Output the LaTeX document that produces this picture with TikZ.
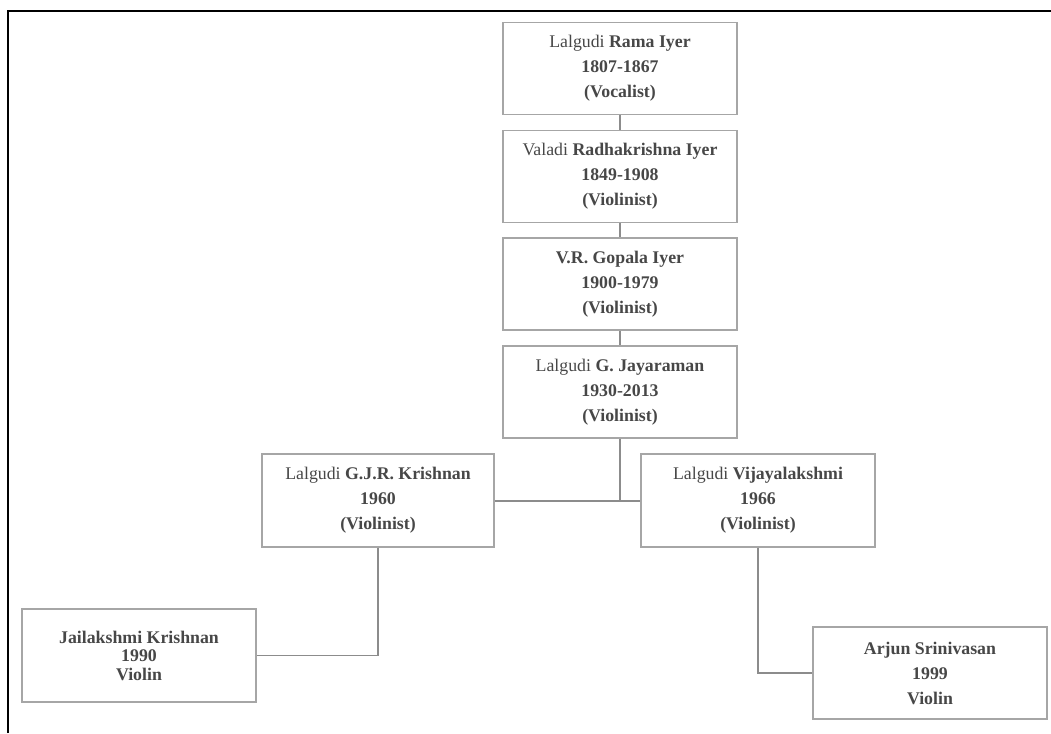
\documentclass[tikz,border=0pt]{standalone}
\usepackage{fontspec}
\setmainfont{Liberation Serif}
\definecolor{txtgray}{HTML}{474747}
\definecolor{boxgray}{HTML}{A6A6A6}
\definecolor{linegray}{HTML}{8C8C8C}
\begin{document}
\begin{tikzpicture}[x=1pt,y=-1pt,
  person/.style={draw=boxgray, line width=1.3pt, rectangle, minimum width=234pt,
    minimum height=92pt, inner sep=0pt, align=center, text=txtgray,
    font=\fontsize{17.8}{25}\selectfont},
  tight/.style={font=\fontsize{17.8}{18.5}\selectfont},
  conn/.style={draw=linegray, line width=1.3pt},
  frame/.style={draw=black, line width=2pt}]
\useasboundingbox (0,0) rectangle (1051,733);
\coordinate (ftl) at (8,11);
\coordinate (fbl) at (8,733);
\coordinate (ftr) at (1051,11);
\draw[frame] (fbl) -- (ftl) -- (ftr);

\node[person] (rama) at (620,68.5) {Lalgudi \textbf{Rama Iyer}\\\textbf{1807-1867}\\\textbf{(Vocalist)}};
\node[person] (radha) at (620,176.5) {Valadi \textbf{Radhakrishna Iyer}\\\textbf{1849-1908}\\\textbf{(Violinist)}};
\node[person] (gopala) at (620,284) {\textbf{V.R. Gopala Iyer}\\\textbf{1900-1979}\\\textbf{(Violinist)}};
\node[person] (jaya) at (620,392) {Lalgudi \textbf{G. Jayaraman}\\\textbf{1930-2013}\\\textbf{(Violinist)}};
\node[person, minimum width=232pt, minimum height=93pt] (gjr) at (378,500.5) {Lalgudi \textbf{G.J.R. Krishnan}\\\textbf{1960}\\\textbf{(Violinist)}};
\node[person, minimum height=93pt] (vijaya) at (758,500.5) {Lalgudi \textbf{Vijayalakshmi}\\\textbf{1966}\\\textbf{(Violinist)}};
\node[person, tight, minimum height=93pt] (jai) at (139,655.5) {\textbf{Jailakshmi Krishnan}\\\textbf{1990}\\\textbf{Violin}};
\node[person, minimum height=92pt] (arjun) at (930,673) {\textbf{Arjun Srinivasan}\\\textbf{1999}\\\textbf{Violin}};

\coordinate (junc) at (620,501);
\draw[conn] (rama) -- (radha);
\draw[conn] (radha) -- (gopala);
\draw[conn] (gopala) -- (jaya);
\draw[conn] (jaya.south) -- (junc);
\draw[conn] (gjr.east |- junc) -- (vijaya.west |- junc);
\draw[conn] (gjr.south) |- (jai.east);
\draw[conn] (vijaya.south) |- (arjun.west);
\end{tikzpicture}
\end{document}
